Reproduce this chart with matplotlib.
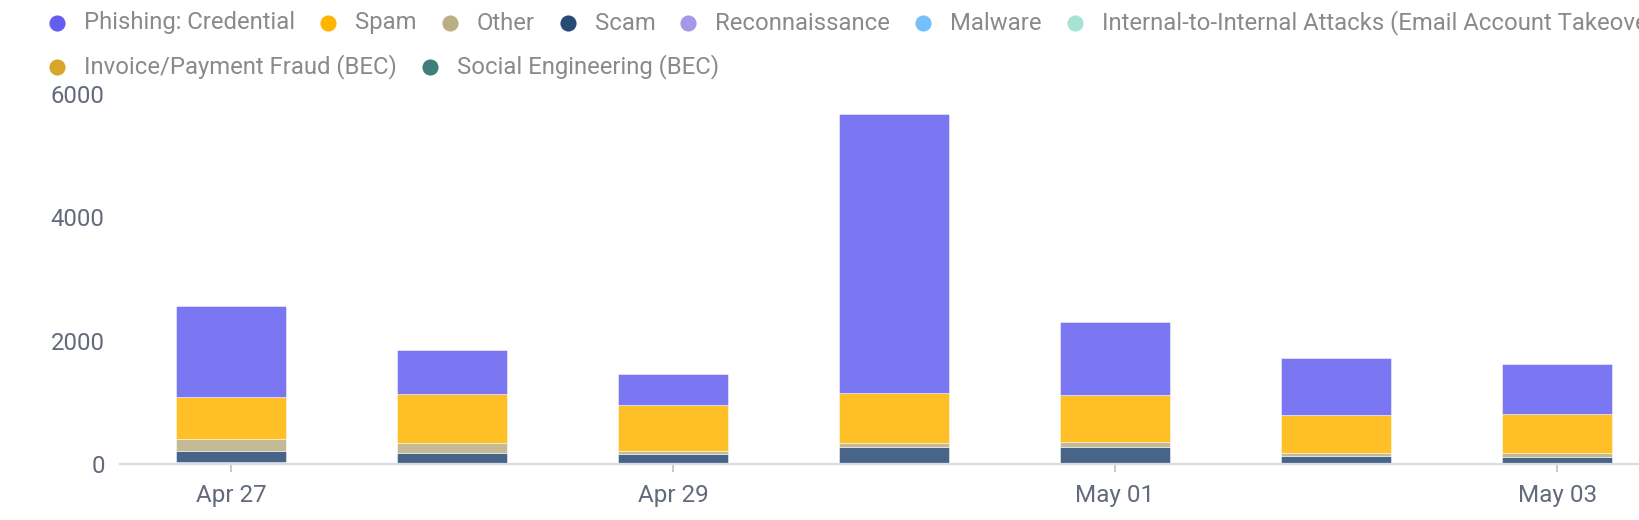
import matplotlib
matplotlib.use('Agg')
import matplotlib.pyplot as plt
import numpy as np

# ---- data ----
dates = ['Apr 27', 'Apr 28', 'Apr 29', 'Apr 30', 'May 01', 'May 02', 'May 03']
tick_labels = ['Apr 27', 'Apr 29', 'May 01', 'May 03']
categories = ['Phishing: Credential', 'Spam', 'Other', 'Scam', 'Reconnaissance', 'Malware',
              'Internal-to-Internal Attacks (Email Account Takeover)',
              'Invoice/Payment Fraud (BEC)', 'Social Engineering (BEC)']
phishing = [1480, 716, 494, 4531, 1190, 939, 808]
spam = [673, 787, 742, 804, 750, 608, 636]
other = [196, 170, 60, 72, 93, 44, 65]
scam = [176, 165, 150, 255, 262, 130, 110]
recon = [15, 8, 6, 15, 8, 5, 4]
malware = [25, 5, 4, 4, 4, 3, 3]
internal = [2, 1, 1, 1, 1, 1, 1]
invoice = [0, 0, 0, 0, 0, 0, 0]
social = [0, 0, 0, 0, 0, 0, 0]
yticks = [0, 2000, 4000, 6000]

colors = {
    'Phishing: Credential': '#645EEF',
    'Spam': '#FFB400',
    'Other': '#BBAE84',
    'Scam': '#284A74',
    'Reconnaissance': '#A598E6',
    'Malware': '#74C0FC',
    'Internal-to-Internal Attacks (Email Account Takeover)': '#A6E3D3',
    'Invoice/Payment Fraud (BEC)': '#D8A628',
    'Social Engineering (BEC)': '#3E7F7B',
}
series = {
    'Phishing: Credential': phishing, 'Spam': spam, 'Other': other, 'Scam': scam,
    'Reconnaissance': recon, 'Malware': malware,
    'Internal-to-Internal Attacks (Email Account Takeover)': internal,
    'Invoice/Payment Fraud (BEC)': invoice, 'Social Engineering (BEC)': social,
}

plt.rcParams['font.family'] = ['Roboto', 'DejaVu Sans']

W, H = 1640, 520
fig = plt.figure(figsize=(W / 100, H / 100), dpi=100)
ax = fig.add_axes([120 / W, 1 - 464.3 / H, 1 - 120 / W, (464.3 - 94) / H])

x = np.arange(len(dates))
bottom = np.zeros(len(dates))
for cat in reversed(categories):
    vals = np.array(series[cat], dtype=float)
    ax.bar(x, vals, width=0.5, bottom=bottom, color=colors[cat], alpha=0.85,
           edgecolor=(1, 1, 1, 0.6), linewidth=0.4)
    bottom += vals

ax.set_xlim(-0.502, 6.375)
ax.set_ylim(0, 6000)
ax.set_yticks(yticks)
ax.set_yticklabels([str(v) for v in yticks])
tick_pos = [dates.index(t) for t in tick_labels]
ax.set_xticks(tick_pos)
ax.set_xticklabels(tick_labels)

for s in ['top', 'right', 'left']:
    ax.spines[s].set_visible(False)
ax.spines['bottom'].set_color('#D9DDE3')
ax.spines['bottom'].set_linewidth(1.6)
ax.tick_params(axis='y', length=0, pad=11, labelsize=17.2, labelcolor='#646A7D')
ax.tick_params(axis='x', length=6, width=1.3, color='#C4C4C4', pad=8,
               labelsize=17.5, labelcolor='#646A7D')

# ---- legend (manual, flowing like the original) ----
lax = fig.add_axes([0, 0, 1, 1])
lax.set_xlim(0, W)
lax.set_ylim(H, 0)
lax.axis('off')
fig.canvas.draw()
renderer = fig.canvas.get_renderer()

rows = [(categories[:7], 23), (categories[7:], 67)]
for items, yrow in rows:
    xpos = 57
    for cat in items:
        lax.scatter([xpos], [yrow], s=135, color=colors[cat], linewidths=0, zorder=3)
        t = lax.text(xpos + 27, yrow, cat, fontsize=17.2, color='#8A8A8A',
                     va='center', ha='left')
        bb = t.get_window_extent(renderer=renderer)
        xpos = bb.x1 + 33

fig.savefig('out.png', dpi=100)
